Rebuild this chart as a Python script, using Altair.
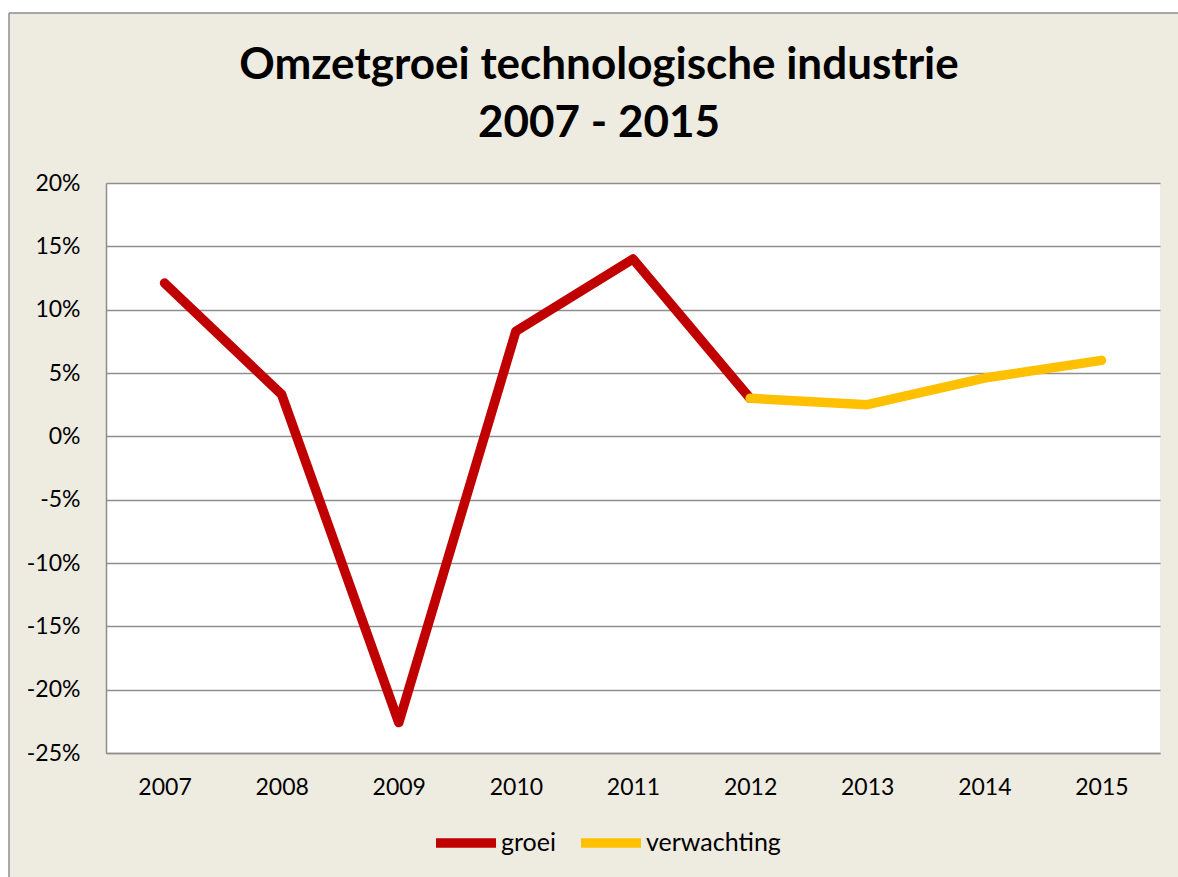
import altair as alt
import pandas as pd

years_groei = ["2007", "2008", "2009", "2010", "2011", "2012"]
values_groei = [0.121, 0.033, -0.226, 0.083, 0.140, 0.030]
years_verw = ["2012", "2013", "2014", "2015"]
values_verw = [0.030, 0.025, 0.046, 0.060]
all_years = ["2007", "2008", "2009", "2010", "2011", "2012", "2013", "2014", "2015"]
series_names = ["groei", "verwachting"]
series_colors = ["#C00000", "#FFC000"]
y_ticks = [-0.25, -0.20, -0.15, -0.10, -0.05, 0.0, 0.05, 0.10, 0.15, 0.20]
title_lines = ["Omzetgroei technologische industrie", "2007 - 2015"]

df = pd.concat([
    pd.DataFrame({"jaar": years_groei, "waarde": values_groei, "reeks": "groei"}),
    pd.DataFrame({"jaar": years_verw, "waarde": values_verw, "reeks": "verwachting"}),
])

W, H = 1054, 570
PAD_L, PAD_T = 106, 183
BG = "#EEEBE0"
FONT = "Lato"

dummy = pd.DataFrame({"a": [0]})

# white outer margin + frame border (page decoration)
margin_left = alt.Chart(dummy).mark_rect(color="white", clip=False).encode(
    x=alt.value(-PAD_L), x2=alt.value(-97), y=alt.value(-PAD_T), y2=alt.value(720))
margin_top = alt.Chart(dummy).mark_rect(color="white", clip=False).encode(
    x=alt.value(-PAD_L), x2=alt.value(1100), y=alt.value(-PAD_T), y2=alt.value(-170))
border_v = alt.Chart(dummy).mark_rule(color="#8E8E8E", strokeWidth=1.5, clip=False).encode(
    x=alt.value(-97), y=alt.value(-170), y2=alt.value(720))
border_h = alt.Chart(dummy).mark_rule(color="#8E8E8E", strokeWidth=1.5, clip=False).encode(
    x=alt.value(-97), x2=alt.value(1100), y=alt.value(-170))

title1 = alt.Chart(pd.DataFrame({"t": [title_lines[0]]})).mark_text(
    font=FONT, fontSize=44, fontWeight="bold", color="#000000",
    align="center", baseline="alphabetic", clip=False).encode(
    text="t:N", x=alt.value(599 - PAD_L), y=alt.value(79 - PAD_T))
title2 = alt.Chart(pd.DataFrame({"t": [title_lines[1]]})).mark_text(
    font=FONT, fontSize=44, fontWeight="bold", color="#000000",
    align="center", baseline="alphabetic", clip=False).encode(
    text="t:N", x=alt.value(599 - PAD_L), y=alt.value(137 - PAD_T))

lines = alt.Chart(df).mark_line(strokeWidth=9.5, strokeCap="round", strokeJoin="round").encode(
    x=alt.X("jaar:N", sort=all_years,
            scale=alt.Scale(type="point", domain=all_years, padding=0.5),
            axis=alt.Axis(title=None, labelAngle=0, ticks=False, grid=False,
                          labelFontSize=23, labelFont=FONT, labelColor="#000000",
                          labelPadding=23, domainColor="#8E8E8E", domainWidth=1.5)),
    y=alt.Y("waarde:Q",
            scale=alt.Scale(domain=[-0.25, 0.20], nice=False),
            axis=alt.Axis(title=None, values=y_ticks, ticks=False,
                          labelExpr="toString(round(datum.value*100)) + '%'",
                          labelFontSize=23, labelFont=FONT, labelColor="#000000",
                          labelPadding=26, gridColor="#8E8E8E", gridWidth=1.5,
                          domainColor="#8E8E8E", domainWidth=1.5)),
    color=alt.Color("reeks:N",
                    scale=alt.Scale(domain=series_names, range=series_colors),
                    legend=alt.Legend(title=None, orient="none", direction="horizontal",
                                      legendX=325, legendY=625,
                                      symbolType="stroke", symbolSize=3600,
                                      symbolStrokeWidth=9.5,
                                      labelFontSize=25, labelFont=FONT, labelColor="#000000",
                                      labelOffset=0, columnPadding=6)),
    detail="reeks:N",
)

chart = alt.layer(margin_left, margin_top, border_v, border_h, title1, title2, lines).properties(
    width=W, height=H,
    padding={"left": PAD_L, "top": PAD_T, "right": 1178 - PAD_L - W, "bottom": 877 - PAD_T - H},
    autosize=alt.AutoSizeParams(type="none"),
    background=BG,
).configure_view(fill="white", stroke=None)

chart.save("out.html", embed_options={"renderer": "svg", "actions": False})
